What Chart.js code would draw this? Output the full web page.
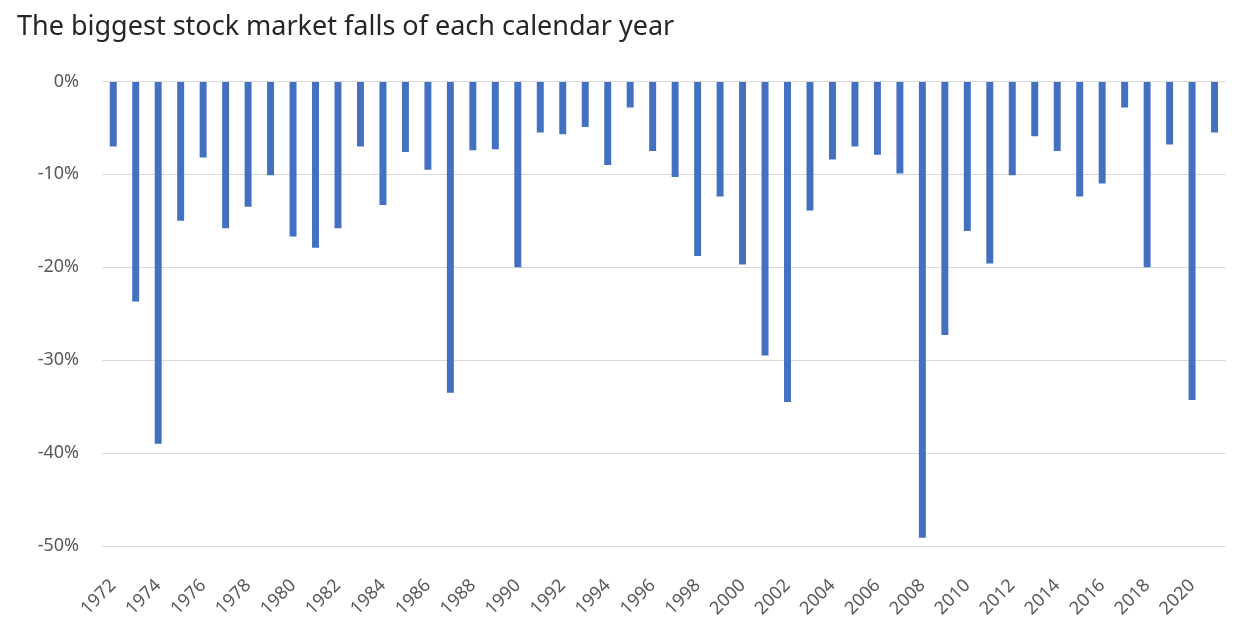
<!DOCTYPE html>
<html>
<head>
<meta charset="utf-8">
<script src="https://cdn.jsdelivr.net/npm/chart.js@4/dist/chart.umd.min.js"></script>
<style>
    html, body { margin: 0; padding: 0; background: #fff; }
    #wrap { width: 1251px; height: 635px; }
</style>
</head>
<body>
<div id="wrap"><canvas id="fallsChart" width="1251" height="635"></canvas></div>
<script>
// Years on the category axis
const years = ['1972', '1973', '1974', '1975', '1976', '1977', '1978', '1979', '1980', '1981',
    '1982', '1983', '1984', '1985', '1986', '1987', '1988', '1989', '1990', '1991',
    '1992', '1993', '1994', '1995', '1996', '1997', '1998', '1999', '2000', '2001',
    '2002', '2003', '2004', '2005', '2006', '2007', '2008', '2009', '2010', '2011',
    '2012', '2013', '2014', '2015', '2016', '2017', '2018', '2019', '2020', '2021'];

// Biggest fall in each year, in %
const falls = [-7.0, -23.7, -39.0, -15.0, -8.2, -15.8, -13.5, -10.1, -16.7, -17.9,
    -15.8, -7.0, -13.3, -7.6, -9.5, -33.5, -7.4, -7.3, -20.0, -5.5,
    -5.7, -4.9, -9.0, -2.8, -7.5, -10.3, -18.8, -12.4, -19.7, -29.5,
    -34.5, -13.9, -8.4, -7.0, -7.9, -9.9, -49.1, -27.3, -16.1, -19.6,
    -10.1, -5.9, -7.5, -12.4, -11.0, -2.8, -20.0, -6.8, -34.3, -5.5];

// Value axis ticks
const yTicks = [0, -10, -20, -30, -40, -50];

const tickFont = { family: 'Noto Sans', size: 18 };

const ctx = document.getElementById('fallsChart').getContext('2d');
const fallsChart = new Chart(ctx, {
    type: 'bar',
    data: {
        labels: years,
        datasets: [
            { label: 'Biggest fall', data: falls, backgroundColor: '#4470c2', barPercentage: 0.31, categoryPercentage: 1 },
        ],
    },
    options: {
        responsive: false,
        animation: false,
        layout: { padding: { left: 17, right: 17, top: 0, bottom: 0 } },
        plugins: {
            legend: { display: false },
            tooltip: { enabled: false },
            title: {
                display: true,
                text: 'The biggest stock market falls of each calendar year',
                align: 'start',
                color: '#262626',
                font: { family: 'Noto Sans', size: 27, weight: 'normal' },
                padding: { top: 11, bottom: 38 },
            },
        },
        scales: {
            x: {
                grid: { display: false },
                border: { display: false },
                ticks: {
                    autoSkip: false,
                    minRotation: 45,
                    maxRotation: 45,
                    padding: 21,
                    color: '#595959',
                    font: tickFont,
                    callback: (value, index) => (index % 2 === 0 ? years[index] : ''),
                },
                afterFit: (scale) => { scale.height = 89; },
            },
            y: {
                min: -50,
                max: 0,
                afterBuildTicks: (scale) => { scale.ticks = yTicks.map((v) => ({ value: v })); },
                grid: { color: '#d9d9d9', lineWidth: 1, drawTicks: false },
                border: { display: false },
                ticks: {
                    padding: 23,
                    color: '#595959',
                    font: tickFont,
                    callback: (value) => value + '%',
                },
                afterFit: (scale) => { scale.width = 85; },
            },
        },
    },
});
</script>
</body>
</html>
